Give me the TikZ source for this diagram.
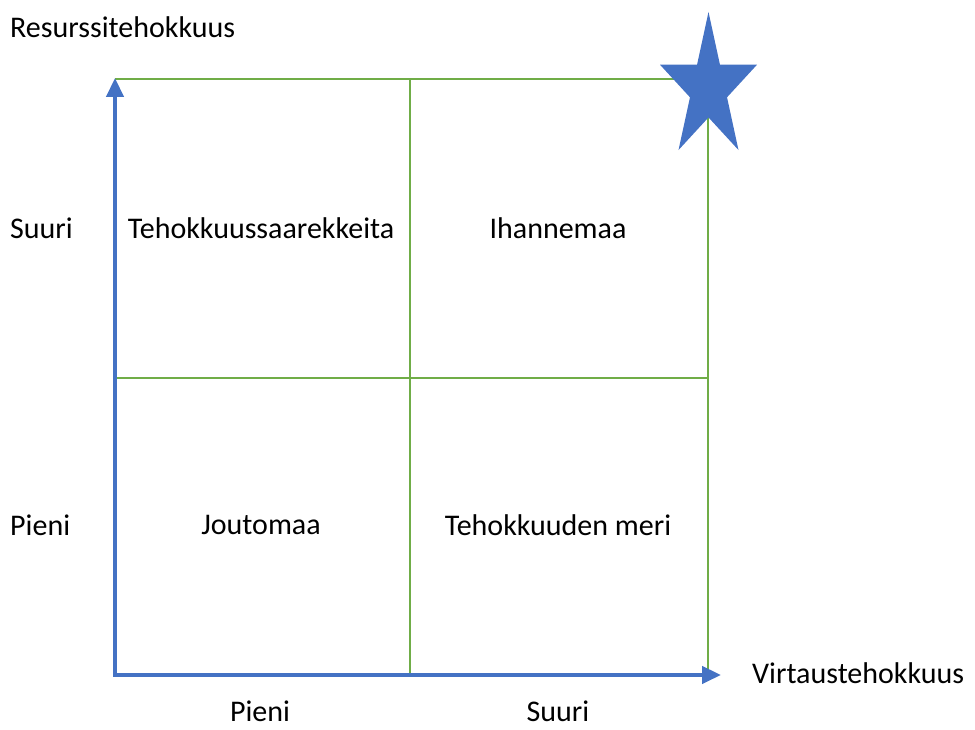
\documentclass[tikz,border=0pt]{standalone}
\usepackage{fontspec}
\setmainfont{Carlito}
\usetikzlibrary{arrows.meta}
\definecolor{axisblue}{HTML}{4472C4}
\definecolor{quadgreen}{HTML}{70AD47}

\begin{document}
\begin{tikzpicture}[x=1pt, y=1pt, font=\fontsize{30}{36}\selectfont,
    axisline/.style={axisblue, line width=4.5pt,
      {Triangle[length=19pt,width=17pt]}-{Triangle[length=19pt,width=17pt]}},
    quadline/.style={quadgreen, line width=1.5pt},
    lbl/.style={inner sep=0pt}]
  \useasboundingbox (0,0) rectangle (975,730);

  % field corners
  \coordinate (O) at (115,55);
  \coordinate (ytop) at (115,652);
  \coordinate (xend) at (721,55);

  % quadrant lines
  \draw[quadline] (115,651) -- (708,651) -- (708,55);
  \draw[quadline] (410,55) -- (410,651);
  \draw[quadline] (115,352) -- (708,352);

  % axes
  \draw[axisline, line join=miter] (ytop) -- (O) -- (xend);

  % star in the ideal corner
  \fill[axisblue, shift={(708.5,641.7)}, xscale=51, yscale=76.3]
    (90:1) -- (126:0.382) -- (162:1) -- (198:0.382) -- (234:1) -- (270:0.382)
    -- (306:1) -- (342:0.382) -- (18:1) -- (54:0.382) -- cycle;

  % axis titles
  \node[lbl, anchor=west] (ytitle) at (10,703) {Resurssitehokkuus};
  \node[lbl, anchor=west] (xtitle) at (752,57) {Virtaustehokkuus};

  % scale labels
  \node[lbl, anchor=west] (ybig) at (10,502) {Suuri};
  \node[lbl, anchor=west] (ysmall) at (10,205) {Pieni};
  \node[lbl, anchor=base] (xsmall) at (260,8) {Pieni};
  \node[lbl, anchor=base] (xbig) at (558,8) {Suuri};

  % quadrants
  \node[lbl] (islands) at (261,502) {Tehokkuussaarekkeita};
  \node[lbl] (ideal) at (558,502) {Ihannemaa};
  \node[lbl] (idle) at (261,205) {Joutomaa};
  \node[lbl] (sea) at (558,205) {Tehokkuuden meri};
\end{tikzpicture}
\end{document}
